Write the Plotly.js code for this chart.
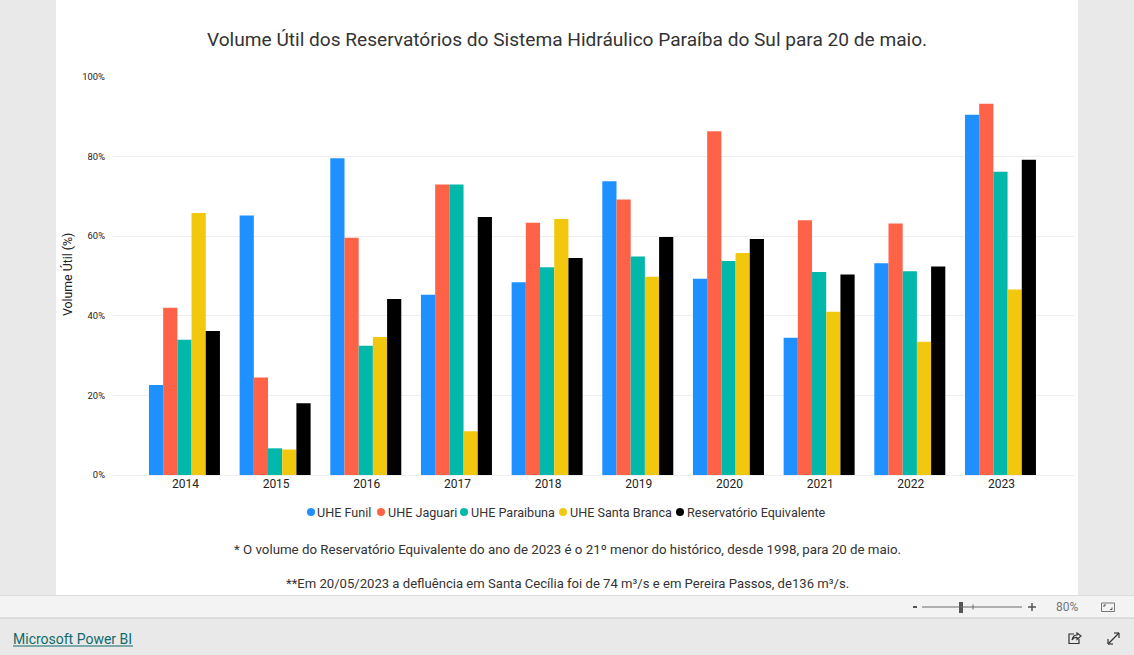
<!DOCTYPE html>
<html>
<head>
<meta charset="utf-8">
<script src="https://cdn.plot.ly/plotly-3.0.1.min.js"></script>
<style>html,body{margin:0;padding:0;background:#e9e9e9;overflow:hidden}#c{width:1134px;height:655px}</style>
</head>
<body>
<div id="c"></div>
<script>
const years = ['2014','2015','2016','2017','2018','2019','2020','2021','2022','2023'];
const funil = [22.6,65.2,79.6,45.3,48.4,73.8,49.3,34.5,53.2,90.5];
const jaguari = [42.0,24.5,59.6,73.0,63.4,69.2,86.4,64.0,63.2,93.3];
const paraibuna = [34.0,6.7,32.5,73.0,52.2,54.9,53.8,51.0,51.2,76.2];
const santaBranca = [65.8,6.4,34.7,11.0,64.3,49.8,55.8,41.0,33.5,46.6];
const equivalente = [36.2,18.0,44.2,64.8,54.5,59.8,59.3,50.4,52.4,79.2];
const seriesNames = ['UHE Funil','UHE Jaguari','UHE Paraibuna','UHE Santa Branca','Reservatório Equivalente'];
const seriesColors = ['#1E90FF','#FF6347','#01B8AA','#F2C80F','#000000'];
const seriesValues = [funil,jaguari,paraibuna,santaBranca,equivalente];
const titleText = 'Volume Útil dos Reservatórios do Sistema Hidráulico Paraíba do Sul para 20 de maio.';
const note1 = '* O volume do Reservatório Equivalente do ano de 2023 é o 21º menor do histórico, desde 1998, para 20 de maio.';
const note2 = '**Em 20/05/2023 a defluência em Santa Cecília foi de 74 m³/s e em Pereira Passos, de136 m³/s.';

const W = 1134, H = 655, FONT = 'Roboto, sans-serif';
const l = 113, r = 60, t = 77, b = 180;
const px = x => (x - l) / (W - l - r);
const py = y => (H - b - y) / (H - t - b);

const traces = seriesNames.map((n,i) => ({
  type:'bar', name:n, x:years, y:seriesValues[i],
  marker:{color:seriesColors[i]}, showlegend:false, hoverinfo:'x+y+name'
}));

const rect = (x0,y0,x1,y1,fill,line) => ({type:'rect',xref:'paper',yref:'paper',layer:'below',
  x0:px(x0),x1:px(x1),y0:py(y1),y1:py(y0),fillcolor:fill,line:{width:line?1:0,color:line||fill}});
const seg = (x0,y0,x1,y1,c,w) => ({type:'line',xref:'paper',yref:'paper',layer:'above',
  x0:px(x0),x1:px(x1),y0:py(y0),y1:py(y1),line:{color:c,width:w||1}});
const dot = (cx,cy,rad,c) => ({type:'circle',xref:'paper',yref:'paper',layer:'above',
  x0:px(cx-rad),x1:px(cx+rad),y0:py(cy+rad),y1:py(cy-rad),fillcolor:c,line:{width:0}});
const txt = (text,x,y,size,color,xanchor,extra) => Object.assign({text,xref:'paper',yref:'paper',
  x:px(x),y:py(y),xanchor:xanchor||'center',yanchor:'middle',showarrow:false,
  font:{family:FONT,size,color}},extra||{});

const legendDotX = [311,381,464,563,680];
const legendTextX = [315,386,469,568,685];

const shapes = [
  rect(56,0,1078,595.5,'#ffffff'),
  rect(0,596,W,618,'#f3f3f3'),
  seg(0,595.5,W,595.5,'#dcdcdc'),
  seg(0,618,W,618,'#c9c9c9'),
  // zoom control
  seg(922,607,1022,607,'#6b6b6b'),
  seg(913,607,917,607,'#555555',2),
  seg(1028,607,1036,607,'#555555',1.5),
  seg(1032,603,1032,611,'#555555',1.5),
  seg(973,604.5,973,609.5,'#6b6b6b'),
  rect(959,602,963,613,'#555555'),
  // fit to page icon
  rect(1101.5,603,1114.5,611.5,'rgba(0,0,0,0)','#777777'),
  seg(1104,605,1106,605,'#555555'), seg(1104,605,1104,607,'#555555'),
  seg(1110,609.5,1112,609.5,'#555555'), seg(1112,607.5,1112,609.5,'#555555'),
  // link underline
  seg(13,646,133,646,'#0f6b6b',1.2),
  // share icon
  {type:'path',xref:'paper',yref:'paper',layer:'above',line:{color:'#333333',width:1.2},
   path:`M ${px(1074)} ${py(634)} L ${px(1069)} ${py(634)} L ${px(1069)} ${py(643.5)} L ${px(1079)} ${py(643.5)} L ${px(1079)} ${py(639)}`},
  {type:'path',xref:'paper',yref:'paper',layer:'above',line:{color:'#333333',width:1.2},
   path:`M ${px(1072)} ${py(640)} Q ${px(1073)} ${py(635)} ${px(1077)} ${py(635)} L ${px(1077)} ${py(633)} L ${px(1081)} ${py(636)} L ${px(1077)} ${py(639.5)} L ${px(1077)} ${py(637.5)} Q ${px(1074)} ${py(637)} ${px(1072)} ${py(640)}`},
  // expand icon
  seg(1108,644,1119,633,'#333333',1.2),
  seg(1114,633,1119,633,'#333333',1.2),
  seg(1119,633,1119,638,'#333333',1.2),
  seg(1108,639,1108,644,'#333333',1.2),
  seg(1108,644,1113,644,'#333333',1.2),
].concat(legendDotX.map((x,i) => dot(x,512,4,seriesColors[i])));

const annotations = [
  txt(titleText,567,39.5,19.1,'#333333'),
  txt(note1,567,549,13.3,'#333333'),
  txt(note2,567,583,13.1,'#333333'),
  txt('Microsoft Power BI',11,639,14,'#0f6b6b','left'),
  txt('80%',1066.5,607,12,'#777777'),
  txt('Volume Útil (%)',67,275,12.3,'#222222','center',{textangle:-90}),
].concat(seriesNames.map((n,i) => txt(n,legendTextX[i],512.6,12.6,'#333333','left')));

const layout = {
  width:W, height:H,
  margin:{l,r,t,b,pad:0},
  paper_bgcolor:'#e9e9e9', plot_bgcolor:'rgba(0,0,0,0)',
  font:{family:FONT,color:'#333333'},
  barmode:'group', bargap:0.217, bargroupgap:0,
  xaxis:{type:'category',range:[-0.788,9.811],tickfont:{size:12,color:'#222222'},ticklabelshift:1,
    showgrid:false,zeroline:false,showline:false,ticks:'',ticklen:0,automargin:false},
  yaxis:{range:[0,100],tickvals:[0,20,40,60,80,100],ticktext:['0%','20%','40%','60%','80%','100%'],
    tickfont:{size:9.4,color:'#222222'},ticklabelstandoff:7,gridcolor:'#efefef',gridwidth:1,zeroline:true,zerolinecolor:'#efefef',
    showline:false,ticks:'',automargin:false},
  shapes, annotations, showlegend:false
};
Plotly.newPlot('c',traces,layout,{displayModeBar:false,responsive:false});
</script>
</body>
</html>
